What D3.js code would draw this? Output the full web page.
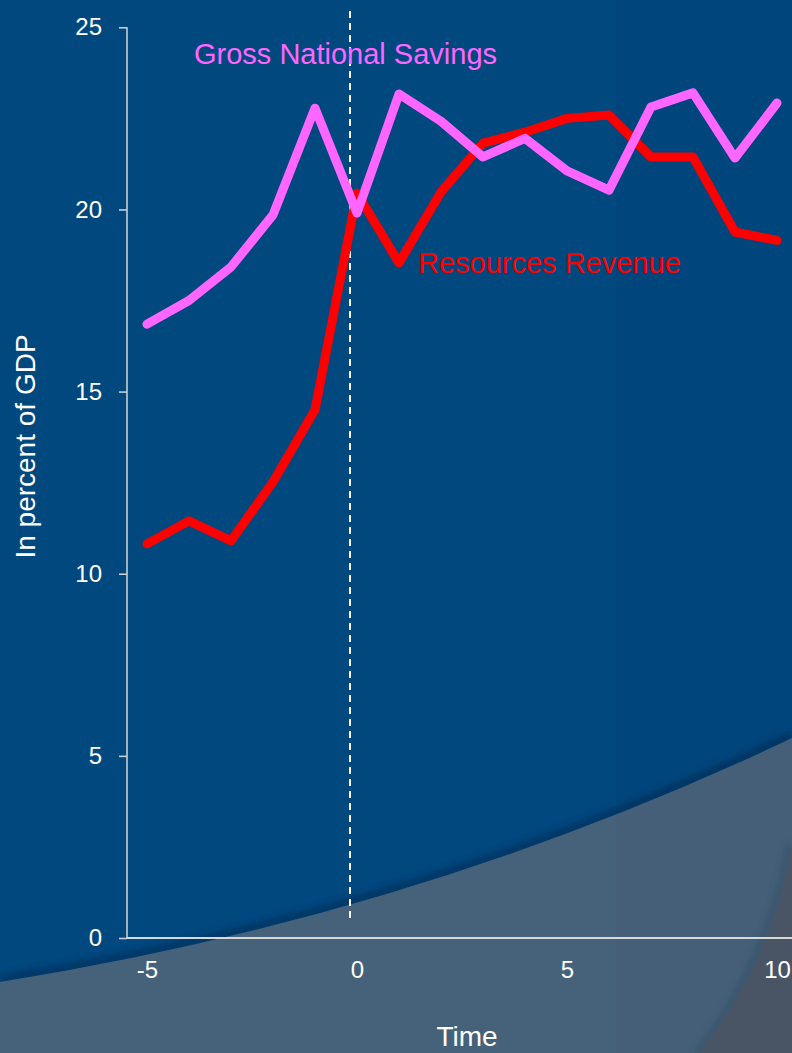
<!DOCTYPE html>
<html>
<head>
<meta charset="utf-8">
<script src="https://cdn.jsdelivr.net/npm/d3@7/dist/d3.min.js"></script>
<style>
  html, body { margin: 0; padding: 0; background: #01487f; }
  svg { display: block; }
  text { font-family: "Liberation Sans", Arial, sans-serif; }
</style>
</head>
<body>
<svg id="chart" width="792" height="1053"></svg>
<script>
// Event time (years relative to the resource discovery)
const years = [-5, -4, -3, -2, -1, 0, 1, 2, 3, 4, 5, 6, 7, 8, 9, 10];
// Gross National Savings, in percent of GDP
const savings = [16.85, 17.5, 18.42, 19.85, 22.78, 19.9, 23.17, 22.42, 21.44, 21.95, 21.06, 20.53, 22.81, 23.2, 21.41, 22.92];
// Resources Revenue, in percent of GDP
const revenue = [10.82, 11.45, 10.9, 12.52, 14.5, 20.45, 18.53, 20.48, 21.82, 22.12, 22.5, 22.59, 21.44, 21.44, 19.38, 19.15];
// Axis ticks
const yTicks = [0, 5, 10, 15, 20, 25];
const xTicks = [-5, 0, 5, 10];

const W = 792, H = 1053;
const svg = d3.select("#chart");

const x = d3.scaleLinear().domain([-5, 10]).range([147, 777]);
const y = d3.scaleLinear().domain([0, 25]).range([938, 27.3]);

// plain hyphen for negative numbers
const plain = d => String(d);

// ---- Background -------------------------------------------------------
const defs = svg.append("defs");
defs.append("filter").attr("id", "soft").attr("x", "-10%").attr("y", "-10%")
  .attr("width", "120%").attr("height", "120%")
  .append("feGaussianBlur").attr("stdDeviation", 3);

svg.append("rect").attr("width", W).attr("height", H).attr("fill", "#01487f");

const swoosh = "M0,982 Q420,915 792,738";
// shadow under the swoosh edge
svg.append("path")
  .attr("d", swoosh)
  .attr("transform", "translate(0,-3)")
  .attr("fill", "none")
  .attr("stroke", "#002f5a")
  .attr("stroke-width", 7)
  .attr("opacity", 0.8)
  .attr("filter", "url(#soft)");
svg.append("path")
  .attr("d", swoosh + " L792,1053 L0,1053 Z")
  .attr("fill", "#46627a");

const corner = "M700,1053 Q775,955 792,845";
svg.append("path")
  .attr("d", corner)
  .attr("transform", "translate(-3,0)")
  .attr("fill", "none")
  .attr("stroke", "#3a566f")
  .attr("stroke-width", 6)
  .attr("filter", "url(#soft)");
svg.append("path")
  .attr("d", corner + " L792,1053 Z")
  .attr("fill", "#4b5868");

// faint vertical band on the right
svg.append("rect").attr("x", 616).attr("y", 0).attr("width", W - 616).attr("height", H)
  .attr("fill", "#000").attr("opacity", 0.025);

// ---- Axes -------------------------------------------------------------
const yAxis = svg.append("g")
  .attr("transform", "translate(127,0)")
  .call(d3.axisLeft(y).tickValues(yTicks).tickSize(8).tickPadding(17).tickFormat(plain));
yAxis.select(".domain").attr("stroke", "#c9ccd0").attr("stroke-width", 1.6)
  .attr("d", `M0,${y(25)}V${y(0)}`);
yAxis.selectAll(".tick line").attr("stroke", "#c9ccd0").attr("stroke-width", 1.6);
yAxis.selectAll(".tick text").attr("fill", "#ffffff").attr("font-size", 24)
  .attr("font-family", "'Liberation Sans', Arial, sans-serif");

const xAxis = svg.append("g")
  .attr("transform", `translate(0,${y(0)})`)
  .call(d3.axisBottom(x).tickValues(xTicks).tickSize(0).tickPadding(23).tickFormat(plain));
xAxis.select(".domain").attr("stroke", "#d6d8da").attr("stroke-width", 2)
  .attr("d", `M127,0H${W}`);
xAxis.selectAll(".tick text").attr("fill", "#ffffff").attr("font-size", 24)
  .attr("font-family", "'Liberation Sans', Arial, sans-serif");

// axis titles
svg.append("text")
  .attr("transform", `translate(35,${(328 + 565) / 2}) rotate(-90)`)
  .attr("text-anchor", "middle")
  .attr("fill", "#ffffff")
  .attr("font-size", 28)
  .text("In percent of GDP");

svg.append("text")
  .attr("x", 467).attr("y", 1046)
  .attr("text-anchor", "middle")
  .attr("fill", "#ffffff")
  .attr("font-size", 28)
  .text("Time");

// ---- Event line at t = 0 ---------------------------------------------
svg.append("line")
  .attr("x1", x(0) - 7).attr("x2", x(0) - 7)
  .attr("y1", 11).attr("y2", 922)
  .attr("stroke", "#ffffff")
  .attr("stroke-width", 2)
  .attr("stroke-dasharray", "7,5");

// ---- Series -----------------------------------------------------------
const line = d3.line().x(d => x(d[0])).y(d => y(d[1]));

svg.append("path")
  .datum(years.map((t, i) => [t, revenue[i]]))
  .attr("d", line)
  .attr("fill", "none")
  .attr("stroke", "#ff0000")
  .attr("stroke-width", 9)
  .attr("stroke-linejoin", "round")
  .attr("stroke-linecap", "round");

svg.append("path")
  .datum(years.map((t, i) => [t, savings[i]]))
  .attr("d", line)
  .attr("fill", "none")
  .attr("stroke", "#ff66ff")
  .attr("stroke-width", 9)
  .attr("stroke-linejoin", "round")
  .attr("stroke-linecap", "round");

// ---- Series labels ----------------------------------------------------
svg.append("text")
  .attr("x", 194).attr("y", 64)
  .attr("fill", "#ff66ff")
  .attr("font-size", 29)
  .text("Gross National Savings");

svg.append("text")
  .attr("x", 418).attr("y", 273)
  .attr("fill", "#ff0000")
  .attr("font-size", 29)
  .text("Resources Revenue");
</script>
</body>
</html>
